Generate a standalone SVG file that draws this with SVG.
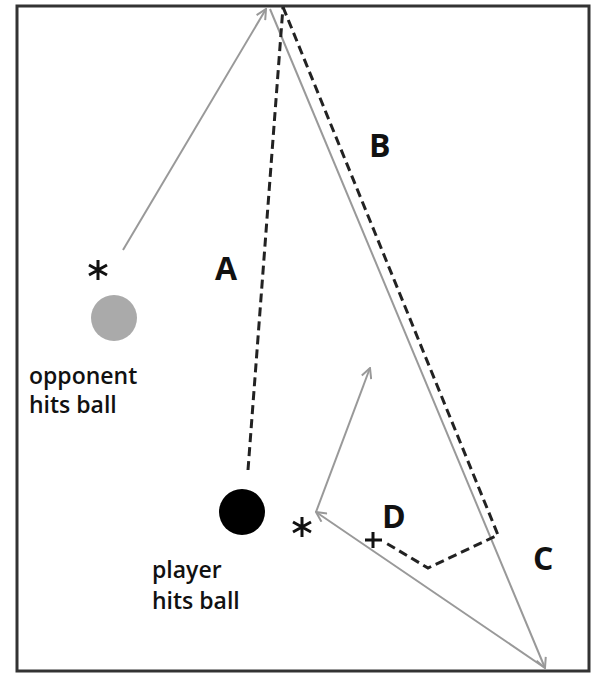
<svg xmlns="http://www.w3.org/2000/svg" width="595" height="675" viewBox="0 0 595 675">
<style>
.lbl{font-family:"Open Sans","Noto Sans",sans-serif;font-size:23px;font-weight:600;fill:#111}
.big{font-family:"Open Sans","Noto Sans",sans-serif;font-size:32px;font-weight:bold;fill:#111}
.gray{stroke:#999;stroke-width:2;fill:none}
.dash{stroke:#222;stroke-width:3;fill:none;stroke-dasharray:9,5}
.mark{stroke:#111;stroke-width:3;fill:none}
</style>
<defs>
<marker id="ah" viewBox="0 0 12 12" refX="11" refY="6" markerWidth="12" markerHeight="12" markerUnits="userSpaceOnUse" orient="auto">
<path d="M1,1 L11,6 L1,11" fill="none" stroke="#999" stroke-width="2"/>
</marker>
</defs>
<rect x="17" y="6" width="572" height="665" fill="#fff" stroke="#333" stroke-width="3"/>
<g id="connectors">
<line class="gray" x1="123" y1="250" x2="266" y2="9" marker-end="url(#ah)"/>
<line class="gray" x1="270" y1="9" x2="545" y2="668" marker-end="url(#ah)"/>
<line class="gray" x1="545" y1="668" x2="316" y2="512" marker-end="url(#ah)"/>
<line class="gray" x1="316" y1="512" x2="370" y2="368" marker-end="url(#ah)"/>
<path class="dash" d="M248,470 L283,7"/>
<path class="dash" d="M283,7 L498,535 L428,568 L386,543"/>
</g>
<g id="opponent">
<circle cx="114" cy="318" r="23" fill="#aaa"/>
<text class="lbl" x="29" y="384">opponent</text>
<text class="lbl" x="29" y="413">hits ball</text>
</g>
<g id="opponent-hit">
<path class="mark" d="M98,260 V280 M89,265 L107,275 M89,275 L107,265" stroke-width="3"/>
</g>
<g id="player">
<circle cx="242" cy="512" r="23" fill="#000"/>
<text class="lbl" x="152" y="578">player</text>
<text class="lbl" x="152" y="609">hits ball</text>
</g>
<g id="player-hit">
<path class="mark" d="M302,517 V537 M293,522 L311,532 M293,532 L311,522" stroke-width="3"/>
</g>
<g id="D-point">
<path class="mark" d="M365,540 H382 M373,532 V548"/>
<text class="big" x="382" y="528">D</text>
</g>
<g id="labels">
<text class="big" x="369" y="157">B</text>
<text class="big" x="215" y="280">A</text>
<text class="big" x="533" y="570">C</text>
</g>
</svg>
